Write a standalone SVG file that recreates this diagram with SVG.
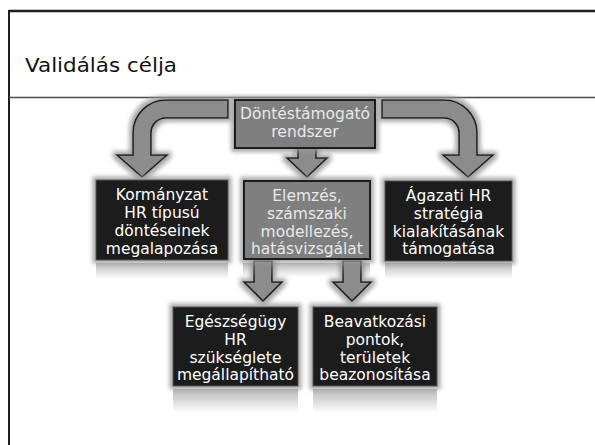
<svg xmlns="http://www.w3.org/2000/svg" width="595" height="445" viewBox="0 0 595 445">
<defs>
<filter id="glow" x="-15%" y="-20%" width="130%" height="140%">
<feMorphology in="SourceAlpha" operator="dilate" radius="3" result="d"/>
<feGaussianBlur in="d" stdDeviation="2" result="b"/>
<feFlood flood-color="#9a9a9a" flood-opacity="0.85"/>
<feComposite in2="b" operator="in" result="g"/>
<feMerge><feMergeNode in="g"/><feMergeNode in="SourceGraphic"/></feMerge>
</filter>
<linearGradient id="refl" x1="0" y1="0" x2="0" y2="1">
<stop offset="0" stop-color="#8a8a8a" stop-opacity="0.6"/>
<stop offset="1" stop-color="#8a8a8a" stop-opacity="0"/>
</linearGradient>
<style>
.frame{fill:none;stroke:#1e1e1e}
.dark{fill:#1b1b1b;stroke:#555;stroke-width:1}
.grey{fill:#7f7f7f;stroke:#1e1e1e;stroke-width:2}
.arrow{fill:#8c8c8c;stroke:#1e1e1e;stroke-width:1.6;stroke-linejoin:miter}
.t{font-family:"DejaVu Sans",Verdana,sans-serif;font-size:15.5px;text-anchor:middle}
.tw{fill:#ffffff}
.tg{fill:#e8e8e8}
.title{font-family:"DejaVu Sans",Verdana,sans-serif;font-size:20px;fill:#111}
.refl{fill:url(#refl)}
</style>
</defs>
<rect width="595" height="445" fill="#ffffff"/>
<!-- frame -->
<line class="frame" x1="9" y1="11" x2="595" y2="11" stroke-width="2.5"/>
<line class="frame" x1="9" y1="10" x2="9" y2="445" stroke-width="2"/>
<line x1="9" y1="97.5" x2="595" y2="97.5" stroke="#4a4a4a" stroke-width="1.6"/>
<text class="title" x="25" y="72" textLength="152" lengthAdjust="spacingAndGlyphs">Validálás célja</text>

<g id="connectors" filter="url(#glow)">
<path class="arrow" d="M228,100 H166 A33,33 0 0 0 133,133 V155 H117 L142,177 L167,155 H151 V133 A15,15 0 0 1 166,118 H228 Z"/>
<path class="arrow" d="M382,100 H444 A33,33 0 0 1 477,133 V155 H493 L468,177 L443,155 H459 V133 A15,15 0 0 0 444,118 H382 Z"/>
<path class="arrow" d="M298,148 V158 H287 L307,177 L327,158 H316 V148 Z"/>
<path class="arrow" d="M254,261 V282 H244 L263,301 L282,282 H272 V261 Z"/>
<path class="arrow" d="M343,261 V282 H333 L352,301 L371,282 H361 V261 Z"/>
</g>

<g id="reflections">
<rect class="refl" x="96" y="263" width="132" height="16"/>
<rect class="refl" x="243" y="263" width="127" height="14"/>
<rect class="refl" x="385" y="263" width="127" height="16"/>
<rect class="refl" x="173" y="389" width="125" height="24"/>
<rect class="refl" x="313" y="389" width="124" height="24"/>
</g>

<g id="node-dontes">
<rect class="grey" x="235" y="100" width="140" height="48" filter="url(#glow)"/>
<text class="t tg" x="305" y="119">Döntéstámogató</text>
<text class="t tg" x="305" y="137">rendszer</text>
</g>

<g id="node-kormanyzat">
<rect class="dark" x="96" y="180" width="132" height="80" filter="url(#glow)"/>
<text class="t tw" x="162" y="200">Kormányzat</text>
<text class="t tw" x="162" y="218">HR típusú</text>
<text class="t tw" x="162" y="236">döntéseinek</text>
<text class="t tw" x="162" y="254">megalapozása</text>
</g>

<g id="node-elemzes">
<rect class="grey" x="244" y="181" width="126" height="78" filter="url(#glow)"/>
<text class="t tg" x="307" y="201">Elemzés,</text>
<text class="t tg" x="307" y="219">számszaki</text>
<text class="t tg" x="307" y="237">modellezés,</text>
<text class="t tg" x="307" y="254">hatásvizsgálat</text>
</g>

<g id="node-agazati">
<rect class="dark" x="385" y="181" width="127" height="80" filter="url(#glow)"/>
<text class="t tw" x="448.5" y="201">Ágazati HR</text>
<text class="t tw" x="448.5" y="219">stratégia</text>
<text class="t tw" x="448.5" y="237">kialakításának</text>
<text class="t tw" x="448.5" y="254">támogatása</text>
</g>

<g id="node-egeszsegugy">
<rect class="dark" x="173" y="307" width="125" height="79" filter="url(#glow)"/>
<text class="t tw" x="235.5" y="327">Egészségügy</text>
<text class="t tw" x="235.5" y="345">HR</text>
<text class="t tw" x="235.5" y="363">szükséglete</text>
<text class="t tw" x="235.5" y="380">megállapítható</text>
</g>

<g id="node-beavatkozasi">
<rect class="dark" x="313" y="307" width="124" height="79" filter="url(#glow)"/>
<text class="t tw" x="375" y="327">Beavatkozási</text>
<text class="t tw" x="375" y="345">pontok,</text>
<text class="t tw" x="375" y="363">területek</text>
<text class="t tw" x="375" y="380">beazonosítása</text>
</g>
</svg>
